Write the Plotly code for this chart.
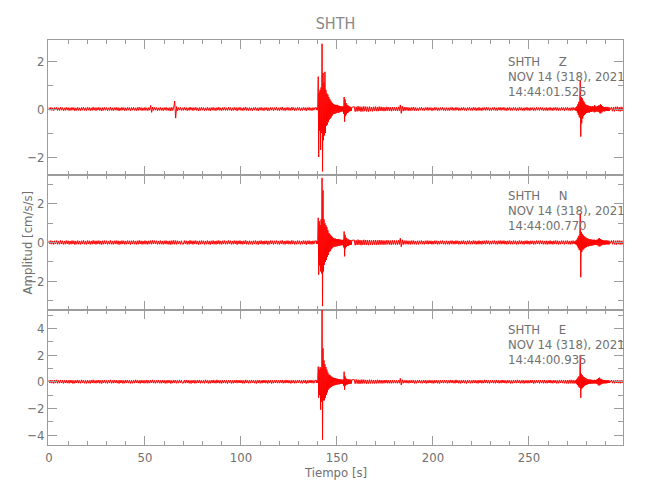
import plotly.graph_objects as go
from plotly.subplots import make_subplots

# ---------------- data ----------------
station = "SHTH"
components = ["Z", "N", "E"]
date_label = "NOV 14 (318), 2021"
start_times = ["14:44:01.525", "14:44:00.770", "14:44:00.935"]

# record segments: start time [s] and sample interval [s]
seg_t0 = [0, 139, 159, 274, 293]
seg_dt = [0.5, 0.25, 0.5, 0.25, 0.5]

# ---- Z component (cm/s/s) ----
z_a = [.06,-.05,.07,-.06,.05,-.07,.06,-.04,.07,-.06,.05,-.06,.08,-.05,.06,-.07,.05,-.06,.07,-.05,
       .06,-.07,.05,-.06,.07,-.05,.06,-.08,.05,-.06,.07,-.06,.05,-.07,.06,-.05,.08,-.06,.05,-.07,
       .07,-.05,.06,-.07,.05,-.06,.08,-.05,.06,-.07,.06,-.05,.07,-.06,.05,-.08,.06,-.06,.07,-.05,
       .06,-.07,.05,-.06,.08,-.06,.05,-.07,.06,-.05,.07,-.06,.06,-.08,.05,-.06,.07,-.05,.06,-.07,
       .05,-.06,.07,-.05,.06,-.08,.06,-.05,.07,-.06,.05,-.07,.06,-.06,.08,-.05,.06,-.07,.05,-.06,
       .07,-.06,.05,-.07,.06,-.05,.15,-.14,.08,-.06,.07,-.05,.06,-.07,.05,-.06,.07,-.06,.05,-.07,
       .06,-.05,.07,-.06,.05,-.07,.06,-.08,.07,-.06,.08,.33,-.38,.1,-.07,.06,-.05,.07,-.06,.05,
       -.06,.07,-.05,.06,-.07,.05,-.06,.08,-.05,.06,-.07,.06,-.05,.07,-.06,.05,-.08,.06,-.06,.07,
       -.05,.06,-.07,.05,-.06,.07,-.06,.05,-.08,.06,-.05,.07,-.06,.05,-.07,.06,-.05,.08,-.06,.05,
       -.07,.06,-.05,.07,-.06,.05,-.06,.08,-.05,.06,-.07,.05,-.06,.07,-.05,.06,-.08,.06,-.05,.07,
       -.06,.05,-.07,.06,-.05,.08,-.06,.05,-.07,.06,-.06,.05,-.07,.06,-.05,.07,-.06,.05,-.08,.06,
       -.05,.07,-.06,.05,-.07,.06,-.05,.06,-.08,.05,-.06,.07,-.05,.06,-.07,.06,-.05,.07,-.06,.05,
       -.07,.06,-.05,.08,-.06,.05,-.07,.06,-.05,.07,-.06,.05,-.06,.08,-.05,.06,-.07,.05,-.06,.07,
       -.05,.06,-.07,.05,-.06,.07,-.05,.06,-.08,.06,-.05,.07,-.06,.05,-.07,.06,-.05,.06]
z_b = [.05,-.04,.06,-.05,
       .08,1.35,-2.0,.7,
       -.9,.8,-1.7,.9,
       -1.0,2.72,-2.6,1.5,
       -1.3,1.1,-1.1,1.55,
       -1.0,.8,-.7,.65,
       -.65,.6,-.55,.5,
       -.45,.42,-.4,.35,
       -.35,.3,-.28,.25,
       -.22,.2,-.2,.18,
       -.2,.17,-.18,.17,
       -.16,.17,-.15,.14,
       -.16,.13,-.12,.12,
       -.13,.11,-.1,.1,
       -.1,.12,-.2,.5,
       -.53,.4,-.3,.25,
       -.22,.18,-.16,.15,
       -.14,.12,-.1,.1,
       -.09,.08,-.08,.07]
z_c = [.1,-.11,.09,-.1,.12,-.09,.1,-.11,.09,-.1,.11,-.09,.1,-.1,.09,-.11,.1,-.09,.08,-.1,
       .09,-.08,.1,-.09,.08,-.09,.1,-.08,.09,-.08,.08,-.09,.07,-.08,.09,-.07,.08,-.08,.07,-.09,
       .08,-.07,.08,-.08,.07,-.08,.09,-.07,.17,-.18,.12,-.09,.08,-.07,.08,-.06,.07,-.08,.06,-.07,
       .07,-.06,.08,-.07,.06,-.07,.05,-.07,.06,-.05,.07,-.06,.05,-.07,.06,-.05,.07,-.06,.06,-.05,
       .06,-.07,.05,-.06,.07,-.05,.06,-.07,.05,-.06,.06,-.05,.07,-.06,.05,-.07,.06,-.06,.05,-.07,
       .06,-.05,.07,-.06,.05,-.06,.07,-.05,.06,-.07,.05,-.06,.06,-.05,.07,-.06,.05,-.07,.06,-.05,
       .07,-.06,.05,-.06,.07,-.05,.06,-.07,.05,-.06,.07,-.06,.05,-.07,.06,-.05,.06,-.06,.07,-.05,
       .06,-.07,.05,-.06,.06,-.05,.07,-.06,.05,-.07,.06,-.05,.07,-.06,.06,-.05,.07,-.06,.05,-.07,
       .06,-.05,.07,-.06,.05,-.06,.07,-.05,.06,-.07,.05,-.06,.07,-.05,.06,-.06,.05,-.07,.06,-.05,
       .07,-.06,.05,-.07,.06,-.05,.06,-.07,.05,-.06,.07,-.05,.06,-.06,.07,-.05,.06,-.07,.05,-.06,
       .06,-.07,.05,-.06,.07,-.06,.05,-.07,.06,-.05,.07,-.06,.06,-.07,.05,-.06,.07,-.05,.06,-.07,
       .06,-.05,.07,-.06,.05,-.07,.06,-.06,.07,-.05]
z_d = [.05,-.06,.07,-.08,
       .12,-.15,.2,-.25,
       .3,-.35,.45,1.2,
       -1.15,.5,-.6,.45,
       -.4,.35,-.3,.3,
       -.25,.22,-.2,.18,
       -.17,.16,-.15,.15,
       -.14,.13,-.15,.12,
       -.12,.11,-.12,.1,
       -.1,.12,-.11,.1,
       -.14,.16,-.12,.1,
       -.11,.1,-.1,.12,
       -.12,.14,-.13,.15,
       -.18,.2,-.18,.16,
       -.14,.12,-.1,.09,
       -.09,.08,-.1,.08,
       -.08,.09,-.07,.08,
       -.08,.07,-.08,.07,
       -.07]
z_e = [.08,-.09,.07,-.1,.09,-.08,.1,-.09,.08,-.1,.09,-.08,.09]

# ---- N component (cm/s/s) ----
n_a = [.09,-.08,.1,-.09,.08,-.1,.09,-.07,.1,-.09,.08,-.09,.11,-.08,.09,-.1,.08,-.09,.1,-.08,
       .09,-.1,.08,-.09,.1,-.08,.09,-.11,.08,-.09,.1,-.09,.08,-.1,.09,-.08,.11,-.09,.08,-.1,
       .1,-.08,.09,-.1,.08,-.09,.11,-.08,.09,-.1,.09,-.08,.1,-.09,.08,-.11,.09,-.09,.1,-.08,
       .09,-.1,.08,-.09,.11,-.09,.08,-.1,.09,-.08,.1,-.09,.09,-.11,.08,-.09,.1,-.08,.09,-.1,
       .08,-.09,.1,-.08,.09,-.11,.09,-.08,.1,-.09,.08,-.1,.09,-.09,.11,-.08,.09,-.1,.08,-.09,
       .1,-.09,.08,-.1,.09,-.08,.1,-.09,.11,-.08,.1,-.08,.09,-.1,.08,-.09,.1,-.09,.08,-.1,
       .09,-.08,.1,-.09,.08,-.1,.09,-.11,.1,-.09,.11,-.09,.1,-.1,.09,-.08,.08,-.1,.09,-.08,
       -.09,.1,-.08,.09,-.1,.08,-.09,.11,-.08,.09,-.1,.09,-.08,.1,-.09,.08,-.11,.09,-.09,.1,
       -.08,.09,-.1,.08,-.09,.1,-.09,.08,-.11,.09,-.08,.1,-.09,.08,-.1,.09,-.08,.11,-.09,.08,
       -.1,.09,-.08,.1,-.09,.08,-.09,.11,-.08,.09,-.1,.08,-.09,.1,-.08,.09,-.11,.09,-.08,.1,
       -.09,.08,-.1,.09,-.08,.11,-.09,.08,-.1,.09,-.09,.08,-.1,.09,-.08,.1,-.09,.08,-.11,.09,
       -.08,.1,-.09,.08,-.1,.09,-.08,.09,-.11,.08,-.09,.1,-.08,.09,-.1,.09,-.08,.1,-.09,.08,
       -.1,.09,-.08,.11,-.09,.08,-.1,.09,-.08,.1,-.09,.08,-.09,.11,-.08,.09,-.1,.08,-.09,.1,
       -.08,.09,-.1,.08,-.09,.1,-.08,.09,-.11,.09,-.08,.1,-.09,.08,-.1,.09,-.08,.09]
n_b = [.08,-.07,.09,-.08,
       .1,1.28,-1.67,1.1,
       -1.2,.9,-1.5,1.2,
       -1.6,3.35,-3.3,2.7,
       -1.5,1.2,-1.15,1.0,
       -1.0,.9,-.9,.8,
       -.75,.65,-.65,.5,
       -.5,.45,-.45,.38,
       -.35,.33,-.3,.28,
       -.25,.22,-.22,.2,
       -.22,.2,-.2,.18,
       -.2,.18,-.18,.17,
       -.17,.16,-.16,.15,
       -.15,.14,-.14,.13,
       -.14,.15,-.25,.57,
       -.72,.4,-.3,.25,
       -.22,.2,-.18,.16,
       -.16,.15,-.14,.13,
       -.13,.12,-.12,.11]
n_c = [.13,-.14,.12,-.13,.15,-.12,.13,-.14,.12,-.13,.14,-.12,.13,-.13,.12,-.14,.13,-.12,.11,-.13,
       .12,-.11,.13,-.12,.11,-.12,.13,-.11,.12,-.11,.11,-.12,.1,-.11,.12,-.1,.11,-.11,.1,-.12,
       .11,-.1,.11,-.11,.1,-.11,.12,-.1,.22,-.22,.14,-.11,.1,-.09,.1,-.09,.09,-.1,.09,-.1,
       .1,-.09,.1,-.09,.08,-.1,.09,-.1,.09,-.08,.1,-.09,.08,-.1,.09,-.08,.1,-.09,.09,-.08,
       .09,-.1,.08,-.09,.1,-.08,.09,-.1,.08,-.09,.09,-.08,.1,-.09,.08,-.1,.09,-.09,.08,-.1,
       .09,-.08,.1,-.09,.08,-.09,.1,-.08,.09,-.1,.08,-.09,.09,-.08,.1,-.09,.08,-.1,.09,-.08,
       .1,-.09,.08,-.09,.1,-.08,.09,-.1,.08,-.09,.1,-.09,.08,-.1,.09,-.08,.09,-.09,.1,-.08,
       .09,-.1,.08,-.09,.09,-.08,.1,-.09,.08,-.1,.09,-.08,.1,-.09,.09,-.08,.1,-.09,.08,-.1,
       .09,-.08,.1,-.09,.08,-.09,.1,-.08,.09,-.1,.08,-.09,.1,-.08,.09,-.09,.08,-.1,.09,-.08,
       .1,-.09,.08,-.1,.09,-.08,.09,-.1,.08,-.09,.1,-.08,.09,-.09,.1,-.08,.09,-.1,.08,-.09,
       .09,-.1,.08,-.09,.1,-.09,.08,-.1,.09,-.08,.1,-.09,.09,-.1,.08,-.09,.1,-.08,.09,-.1,
       .09,-.08,.1,-.09,.08,-.1,.09,-.09,.1,-.08]
n_d = [.08,-.09,.1,-.12,
       .15,-.2,.25,-.3,
       .35,-.4,.45,1.52,
       -1.8,.55,-.5,.45,
       -.4,.38,-.35,.33,
       -.3,.28,-.26,.25,
       -.24,.22,-.2,.2,
       -.2,.18,-.18,.17,
       -.17,.16,-.16,.15,
       -.15,.14,-.15,.14,
       -.13,.14,-.13,.12,
       -.13,.14,-.13,.15,
       -.16,.2,-.2,.22,
       -.2,.18,-.16,.15,
       -.14,.13,-.12,.11,
       -.11,.1,-.12,.1,
       -.1,.11,-.09,.1,
       -.1,.09,-.1,.09,
       -.09]
n_e = [.1,-.09,.11,-.1,.09,-.11,.1,-.09,.1,-.11,.09,-.1,.1]

# ---- E component (cm/s/s) ----
e_a = [.12,-.1,.13,-.11,.1,-.13,.12,-.1,.14,-.12,.1,-.11,.13,-.1,.12,-.13,.11,-.1,.12,-.11,
       .1,-.12,.13,-.1,.11,-.14,.1,-.12,.11,-.1,.13,-.11,.1,-.12,.14,-.1,.11,-.12,.1,-.13,
       .12,-.11,.1,-.13,.12,-.1,.14,-.11,.1,-.12,.11,-.1,.13,-.12,.1,-.14,.11,-.1,.12,-.11,
       .1,-.13,.11,-.1,.14,-.12,.1,-.11,.13,-.1,.12,-.11,.1,-.14,.12,-.1,.11,-.13,.1,-.12,
       .13,-.1,.12,-.11,.1,-.13,.11,-.12,.1,-.11,.14,-.1,.12,-.11,.1,-.13,.12,-.1,.11,-.12,
       .1,-.11,.13,-.12,.1,-.11,.12,-.1,.14,-.11,.1,-.12,.11,-.1,.13,-.11,.1,-.12,.12,-.1,
       .11,-.13,.1,-.12,.12,-.1,.11,-.14,.1,-.11,.13,-.1,.12,-.12,.1,-.11,.13,-.1,.11,-.12,
       -.1,.12,-.11,.13,-.1,.11,-.12,.1,-.14,.11,-.1,.12,-.13,.1,-.11,.12,-.1,.13,-.12,.1,
       -.11,.1,-.12,.14,-.1,.11,-.13,.1,-.12,.11,-.1,.13,-.11,.1,-.12,.14,-.1,.11,-.12,.1,
       -.13,.11,-.1,.12,-.11,.1,-.14,.12,-.1,.11,-.13,.1,-.12,.11,-.1,.13,-.11,.12,-.1,.12,
       -.1,.11,-.13,.1,-.12,.14,-.1,.11,-.12,.1,-.11,.13,-.1,.12,-.11,.1,-.14,.11,-.1,.12,
       -.12,.1,-.11,.13,-.1,.12,-.11,.1,-.13,.11,-.1,.12,-.14,.1,-.11,.12,-.1,.13,-.11,.1,
       -.11,.12,-.1,.13,-.12,.1,-.11,.14,-.1,.12,-.11,.1,-.13,.11,-.1,.12,-.12,.1,-.11,.13,
       -.1,.12,-.11,.1,-.13,.11,-.1,.12,-.14,.1,-.11,.12,-.1,.13,-.11,.1,-.12,.11]
e_b = [.1,-.09,.11,-.1,
       .12,1.13,-1.2,.9,
       -1.0,1.1,-2.1,1.0,
       -1.5,5.4,-4.35,2.5,
       -1.4,1.6,-1.4,1.3,
       -1.2,1.1,-1.0,.9,
       -.8,.7,-.6,.55,
       -.5,.5,-.45,.45,
       -.4,.38,-.35,.33,
       -.3,.3,-.28,.27,
       -.26,.25,-.24,.23,
       -.22,.22,-.2,.2,
       -.2,.18,-.18,.17,
       -.17,.16,-.16,.15,
       -.15,.16,-.3,.75,
       -.6,.4,-.3,.25,
       -.22,.2,-.2,.18,
       -.18,.17,-.16,.16,
       -.15,.15,-.14,.14]
e_c = [.16,-.15,.17,-.14,.15,-.16,.14,-.15,.16,-.14,.15,-.13,.14,-.15,.13,-.14,.15,-.13,.14,-.13,
       .13,-.14,.12,-.13,.14,-.12,.13,-.12,.12,-.13,.11,-.12,.13,-.11,.12,-.12,.11,-.12,.11,-.12,
       .12,-.11,.12,-.11,.1,-.12,.11,-.11,.25,-.25,.15,-.12,.11,-.1,.12,-.11,.1,-.12,.11,-.1,
       .12,-.1,.11,-.13,.1,-.12,.11,-.1,.13,-.11,.1,-.12,.11,-.1,.12,-.13,.1,-.11,.12,-.1,
       .11,-.12,.1,-.13,.12,-.1,.11,-.12,.1,-.14,.11,-.1,.12,-.11,.13,-.1,.11,-.12,.1,-.11,
       .13,-.1,.12,-.11,.1,-.12,.14,-.1,.11,-.12,.1,-.13,.11,-.1,.12,-.11,.1,-.14,.12,-.1,
       .11,-.12,.1,-.11,.13,-.1,.12,-.11,.1,-.13,.12,-.1,.11,-.12,.1,-.11,.14,-.1,.12,-.11,
       .1,-.13,.11,-.1,.12,-.11,.1,-.12,.13,-.1,.11,-.12,.1,-.11,.13,-.1,.12,-.11,.1,-.12,
       .12,-.1,.11,-.13,.1,-.12,.11,-.1,.12,-.11,.14,-.1,.11,-.12,.1,-.11,.12,-.13,.1,-.11,
       .11,-.12,.1,-.11,.13,-.1,.12,-.14,.1,-.11,.12,-.1,.11,-.13,.12,-.1,.11,-.12,.13,-.11,
       .1,-.12,.11,-.1,.13,-.11,.1,-.12,.12,-.1,.11,-.13,.1,-.12,.11,-.1,.12,-.11,.13,-.12,
       .11,-.13,.12,-.14,.13,-.12,.14,-.13,.12,-.14]
e_d = [.1,-.11,.12,-.15,
       .2,-.25,.3,-.35,
       .4,-.45,.5,2.0,
       -1.2,.6,-.55,.5,
       -.45,.4,-.38,.35,
       -.3,.28,-.26,.25,
       -.22,.2,-.2,.18,
       -.18,.17,-.16,.16,
       -.15,.15,-.14,.14,
       -.14,.13,-.14,.13,
       -.13,.14,-.13,.12,
       -.14,.15,-.18,.2,
       -.22,.28,-.3,.3,
       -.25,.22,-.2,.18,
       -.16,.15,-.14,.13,
       -.13,.12,-.12,.11,
       -.12,.11,-.12,.11,
       -.1,.11,-.1,.1,
       -.1]
e_e = [.12,-.11,.1,-.12,.11,-.1,.12,-.11,.1,-.12,.11,-.1,.12]

channels = [
    [z_a, z_b, z_c, z_d, z_e],
    [n_a, n_b, n_c, n_d, n_e],
    [e_a, e_b, e_c, e_d, e_e],
]

x_tick_values = [0, 50, 100, 150, 200, 250]

# ---------------- style / layout ----------------
FONT = "Liberation Sans Narrow, DejaVu Sans Condensed, Arial Narrow, Liberation Sans, sans-serif"
AXIS_GRAY = "#9c9c9c"
TEXT_GRAY = "#707070"
y_ranges = [[-2.75, 2.875], [-3.5, 3.5], [-4.75, 5.38]]


def build(segments):
    ts, vs = [], []
    for t0, dt, vals in zip(seg_t0, seg_dt, segments):
        ts.extend(t0 + i * dt for i in range(len(vals)))
        vs.extend(vals)
    return ts, vs


fig = make_subplots(rows=3, cols=1, shared_xaxes=True, vertical_spacing=0)

for i, segs in enumerate(channels):
    t, v = build(segs)
    fig.add_trace(go.Scatter(x=t, y=v, mode="lines",
                             line=dict(color="#ff0000", width=1),
                             hoverinfo="skip", showlegend=False),
                  row=i + 1, col=1)

for i in range(3):
    fig.update_xaxes(range=[-0.5, 299], tickmode="array", tickvals=x_tick_values,
                     ticks="inside", ticklen=9, tickcolor=AXIS_GRAY, tickwidth=1,
                     minor=dict(ticks="inside", dtick=10, tick0=0, ticklen=4,
                                tickcolor=AXIS_GRAY, tickwidth=1),
                     showline=True, linecolor=AXIS_GRAY, linewidth=1, mirror="ticks",
                     showgrid=False, zeroline=False,
                     showticklabels=(i == 2),
                     tickfont=dict(family=FONT, size=13, color=TEXT_GRAY),
                     row=i + 1, col=1)
    fig.update_yaxes(range=y_ranges[i], dtick=2, tick0=0,
                     ticks="inside", ticklen=9, tickcolor=AXIS_GRAY, tickwidth=1,
                     minor=dict(ticks="inside", dtick=1, tick0=0, ticklen=5,
                                tickcolor=AXIS_GRAY, tickwidth=1),
                     showline=True, linecolor=AXIS_GRAY, linewidth=1, mirror="ticks",
                     showgrid=False, zeroline=False,
                     tickfont=dict(family=FONT, size=13, color=TEXT_GRAY),
                     row=i + 1, col=1)

# header annotations in each panel
line_y = [[0.948, 0.911, 0.874], [0.617, 0.580, 0.543], [0.284, 0.247, 0.210]]
nb = "\u00a0"
for i, comp in enumerate(components):
    texts = [station + nb * 5 + comp, date_label, start_times[i]]
    for txt, yy in zip(texts, line_y[i]):
        fig.add_annotation(text=txt, x=0.796, y=yy, xref="paper", yref="paper",
                           xanchor="left", yanchor="middle", showarrow=False,
                           font=dict(family=FONT, size=13, color=TEXT_GRAY))

fig.add_annotation(text="Amplitud [cm/s/s]", x=-0.035, y=0.5, xref="paper", yref="paper",
                   textangle=-90, showarrow=False, xanchor="center", yanchor="middle",
                   font=dict(family=FONT, size=13, color=TEXT_GRAY))
fig.add_annotation(text="Tiempo [s]", x=0.5, y=-0.067, xref="paper", yref="paper",
                   showarrow=False, xanchor="center", yanchor="middle",
                   font=dict(family=FONT, size=13, color=TEXT_GRAY))

# the page is shown with an 8 px body offset, so margins compensate for it
fig.update_layout(
    width=650, height=500,
    margin=dict(l=40, r=35, t=32, b=63),
    paper_bgcolor="white", plot_bgcolor="white",
    title=dict(text=station, xref="paper", x=0.5, xanchor="center",
               y=0.97, yanchor="middle",
               font=dict(family=FONT, size=16, color="#888888")),
)

fig.write_html("out.html")
